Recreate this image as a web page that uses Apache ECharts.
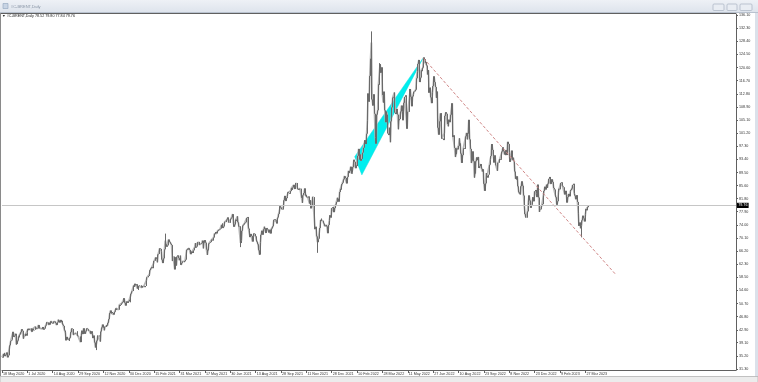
<!DOCTYPE html>
<html><head><meta charset="utf-8">
<script src="https://cdn.jsdelivr.net/npm/echarts@6/dist/echarts.min.js"></script>
<style>html,body{margin:0;padding:0;background:#fff;overflow:hidden}#c{width:758px;height:382px}</style>
</head><body><div id="c"></div>
<script>
const xTickLabels = ['18 May 2020','1 Jul 2020','14 Aug 2020','29 Sep 2020','12 Nov 2020','30 Dec 2020','15 Feb 2021','31 Mar 2021','17 May 2021','30 Jun 2021','13 Aug 2021','28 Sep 2021','11 Nov 2021','28 Dec 2021','10 Feb 2022','28 Mar 2022','11 May 2022','27 Jun 2022','10 Aug 2022','23 Sep 2022','8 Nov 2022','23 Dec 2022','9 Feb 2023','27 Mar 2023'];
const yTickLabels = [31.30,35.20,39.10,42.90,46.80,50.70,54.60,58.50,62.30,66.20,70.10,74.00,77.90,81.80,85.60,89.50,93.40,97.30,101.20,105.10,108.90,112.80,116.70,120.60,124.50,128.40,132.30,136.10];
const closes = [
34.81,34.65,35.75,36.06,35.13,35.53,36.17,34.74,35.29,35.33,38.32,39.57,39.79,39.99,42.30,40.80,41.18,41.73,38.55,38.73,39.72,40.96,40.71,41.51,42.19,43.08,42.63,40.31,41.05,41.02,41.71,41.15,
42.03,43.14,42.80,43.10,43.08,43.29,42.35,43.24,42.72,42.90,43.79,43.37,43.14,43.28,44.32,44.29,43.31,43.34,43.41,43.22,43.75,42.94,43.30,44.15,44.43,45.17,45.09,44.40,44.99,44.50,45.43,44.96,
44.80,45.37,45.46,45.37,44.90,44.35,45.13,45.86,45.64,45.09,45.81,45.28,45.58,44.43,44.07,42.66,42.01,39.78,40.79,40.06,39.83,39.61,40.53,42.22,43.30,43.15,41.44,41.72,41.77,41.94,41.92,42.43,
41.03,40.95,40.93,39.27,41.29,42.65,41.65,43.34,42.85,41.72,42.45,43.32,43.16,42.93,42.62,42.62,41.73,42.46,41.77,40.46,41.20,39.12,37.65,37.46,39.71,41.23,41.23,40.93,39.45,42.40,43.61,44.45,
43.53,42.78,43.82,43.75,44.34,44.20,44.96,46.06,47.86,48.61,47.80,48.18,47.88,47.42,48.25,48.71,49.25,48.79,48.84,48.86,50.25,49.97,50.29,50.76,51.08,51.50,52.26,50.91,50.08,51.20,51.29,50.86,
51.34,51.80,51.09,53.60,54.30,54.38,55.99,55.66,56.58,56.06,56.42,55.10,54.75,55.90,56.08,56.10,55.41,55.88,55.91,55.81,55.53,55.88,57.46,58.46,58.46,58.84,59.34,60.56,61.09,61.47,61.14,62.43,
63.30,63.35,64.34,63.93,62.91,65.24,65.37,67.04,66.88,66.13,63.69,62.70,64.07,66.74,69.36,68.24,67.52,67.90,69.63,69.22,68.88,68.39,68.00,63.28,64.53,64.62,60.79,64.41,61.95,64.57,64.98,64.14,
63.54,64.86,62.15,62.74,63.16,63.20,62.95,63.28,63.67,66.58,66.94,66.77,67.05,66.57,65.32,65.40,66.11,65.65,66.42,67.27,68.56,67.25,67.56,68.88,68.96,68.09,68.28,68.32,68.55,69.32,67.05,68.71,
69.46,68.71,66.66,65.11,66.44,68.46,68.65,68.87,69.46,69.63,69.32,70.25,71.35,71.31,71.89,71.49,72.22,72.22,72.52,72.69,72.86,73.99,74.39,73.08,73.51,74.90,74.81,75.19,75.56,76.18,74.68,74.76,
74.62,75.84,76.17,77.16,74.53,73.43,74.12,75.55,75.16,76.49,74.76,73.47,73.59,68.62,69.35,72.23,73.79,74.10,74.50,74.48,74.74,76.05,76.33,72.89,72.41,70.38,71.29,70.70,69.04,70.63,71.44,71.31,
70.59,69.51,69.03,68.23,66.45,65.18,68.75,71.05,72.25,71.07,72.70,73.41,72.99,71.59,73.03,72.61,72.22,71.69,72.60,71.45,72.92,73.51,73.60,75.46,75.67,75.34,74.92,74.36,76.19,77.25,78.09,79.53,
79.09,78.64,78.52,79.28,81.26,82.56,81.08,81.95,82.39,83.65,83.42,83.18,84.00,84.86,84.33,85.08,85.82,84.61,85.53,86.40,86.40,84.58,84.32,84.38,84.71,84.72,81.99,80.54,82.74,83.43,84.78,82.64,
82.87,82.17,82.05,82.43,80.28,81.24,78.89,79.70,82.31,82.25,82.22,72.72,73.44,70.57,68.87,69.67,69.88,73.08,75.44,75.82,75.15,75.15,74.39,73.70,73.88,74.02,73.52,71.52,73.98,75.29,76.85,76.14,
78.94,79.23,79.32,77.78,78.98,80.00,80.80,81.99,81.75,80.87,83.72,84.67,84.47,86.06,86.48,87.51,88.44,88.38,87.89,86.27,88.20,89.96,89.34,90.03,91.21,89.16,89.47,91.11,93.27,92.69,90.78,91.55,
91.41,94.44,96.48,93.28,94.81,92.97,93.54,95.39,96.84,96.84,99.08,97.93,100.99,104.97,112.93,110.46,118.11,123.21,127.98,111.14,109.33,112.67,106.90,99.91,98.02,106.64,107.93,115.62,115.48,121.60,119.03,120.65,
112.48,110.23,113.45,107.91,104.39,107.53,106.64,101.07,100.58,102.78,98.48,104.64,108.78,111.70,111.90,113.16,107.25,106.80,108.33,106.65,102.32,104.99,105.32,107.59,109.34,107.58,104.97,110.14,111.90,112.39,105.94,102.46,
107.51,107.45,111.55,114.24,111.93,109.11,112.04,112.55,113.42,113.56,114.03,117.40,119.43,121.67,122.84,116.29,117.61,119.72,119.51,120.57,123.58,123.07,122.01,122.27,121.17,118.51,119.81,113.12,114.65,111.74,110.05,113.12,
115.09,117.98,116.26,114.81,111.63,113.50,102.77,100.69,104.65,107.02,107.10,99.49,99.57,99.10,101.16,106.27,107.35,106.92,103.86,103.20,105.15,104.40,106.62,107.14,110.01,100.03,100.54,96.78,94.12,94.92,96.65,96.31,
97.40,99.60,98.15,95.10,92.34,94.65,96.59,96.72,96.48,100.22,101.22,99.34,100.99,105.09,99.31,96.49,92.36,93.02,95.74,92.83,88.00,89.15,92.84,94.00,93.17,94.10,90.84,91.35,92.00,90.62,89.83,90.46,
86.15,84.06,86.27,89.32,88.49,87.96,88.86,91.80,93.37,94.42,97.92,96.19,94.29,92.45,94.57,91.63,91.62,90.03,92.41,92.38,93.50,93.26,93.52,95.69,96.96,95.77,94.83,94.65,96.16,94.67,98.57,97.92,
95.36,92.65,93.67,95.99,93.14,93.86,92.86,89.78,87.62,87.45,88.36,85.41,83.63,83.19,83.03,85.43,86.88,85.57,82.68,79.35,77.17,76.15,76.10,77.99,80.68,82.70,81.21,79.04,79.80,79.99,82.20,80.98,
83.92,84.33,83.26,82.26,85.91,82.10,77.84,78.69,78.57,79.65,80.10,82.67,84.03,85.28,84.46,85.92,84.98,86.16,87.63,88.19,86.13,86.12,87.47,86.66,84.90,84.49,82.84,82.17,79.94,80.99,83.69,84.69,
84.50,86.39,86.61,85.58,85.38,85.14,83.00,84.07,83.05,80.60,82.21,83.16,82.45,83.89,84.31,84.75,85.83,86.18,83.29,82.66,81.59,82.78,80.77,77.45,73.69,74.70,72.97,73.79,75.32,76.69,75.91,74.99,
77.12,78.65,78.28,79.27,79.76
];
// intraday extremes for the bars where they stand out: [bar index, high, low]
const barExtremes = [[120, null, 36.9], [207, 71.4, null], [301, null, 67.4], [325, null, 65.1], [398, null, 65.7], [466, 131.3, null], [477, 121.9, null], [731, null, 70.3]];
const lastPrice = 79.76;
const headerText = '\u25BC #C-BRENT,Daily 78.52 79.80 77.84 79.76';
const windowTitle = '#C-BRENT,Daily';
const triangleIdx = [445, 454, 531];
const trianglePrice = [94.2, 88.8, 123.3];
const trendIdx = [532, 653, 775];
const trendPrice = [123.3, 91.1, 59.1];

const N = 927;
const cats = Array.from({length: N}, (_, i) => String(i));
const extMap = {};
barExtremes.forEach(e => { extMap[e[0]] = e; });
const ohlc = closes.map((c, i) => {
  const o = i ? closes[i - 1] : c;
  let hi = Math.max(o, c), lo = Math.min(o, c);
  const e = extMap[i];
  if (e) { if (e[1] != null) hi = Math.max(hi, e[1]); if (e[2] != null) lo = Math.min(lo, e[2]); }
  return [o, c, lo, hi];
});
const FONT = 'Liberation Sans';
const FS = 3.7;

const chart = echarts.init(document.getElementById('c'), null, {renderer: 'canvas'});
chart.setOption({
  animation: false,
  backgroundColor: '#ffffff',
  title: {
    text: headerText, left: 2, top: 14, padding: 0,
    textStyle: {fontSize: FS, color: '#222', fontWeight: 'normal', fontFamily: FONT}
  },
  grid: {left: 2, right: 22, top: 14, bottom: 12, containLabel: false},
  xAxis: {
    type: 'category', data: cats, boundaryGap: false,
    axisLine: {show: true, lineStyle: {color: '#606060', width: 1}},
    axisTick: {show: true, length: 3, interval: (i) => i % 32 === 0 && i / 32 < xTickLabels.length, lineStyle: {color: '#606060'}},
    axisLabel: {
      show: true, interval: (i) => i % 32 === 0 && i / 32 < xTickLabels.length,
      formatter: (v, i) => (i % 32 === 0 && i / 32 < xTickLabels.length) ? xTickLabels[i / 32] : '',
      align: 'left', margin: 1.5, fontSize: FS, color: '#333', fontFamily: FONT,
      padding: [0, 0, 0, 1], hideOverlap: false, showMinLabel: true
    },
    splitLine: {show: false}
  },
  yAxis: {
    type: 'value', position: 'right', min: 31.0, max: 136.45, scale: true,
    axisLine: {show: true, lineStyle: {color: '#606060', width: 1}},
    axisTick: {show: true, length: 2, customValues: yTickLabels, lineStyle: {color: '#606060'}},
    axisLabel: {
      show: true, customValues: yTickLabels, formatter: (v) => Number(v).toFixed(2),
      margin: 3, fontSize: FS, color: '#333', fontFamily: FONT
    },
    splitLine: {show: false}
  },
  graphic: [
    {type: 'rect', shape: {x: 0, y: 0, width: 758, height: 13}, style: {fill: new echarts.graphic.LinearGradient(0, 0, 0, 1, [{offset: 0, color: '#eef1f6'}, {offset: 1, color: '#dde3ec'}])}, z: 100},
    {type: 'line', shape: {x1: 0, y1: 12.5, x2: 758, y2: 12.5}, style: {stroke: '#b9c2cf', lineWidth: 1}, z: 101},
    {type: 'rect', shape: {x: 3, y: 3.5, width: 5, height: 5}, style: {fill: '#c8d4e4', stroke: '#8ea2bc', lineWidth: 0.6}, z: 101},
    {type: 'text', x: 11, y: 6.5, style: {text: windowTitle, fontSize: 4, fill: '#8a96a6', fontFamily: FONT, verticalAlign: 'middle'}, z: 101},
    {type: 'rect', shape: {x: 713, y: 4, width: 11, height: 6.5, r: 1}, style: {fill: '#e9edf3', stroke: '#a9b3c1', lineWidth: 0.7}, z: 101},
    {type: 'rect', shape: {x: 727, y: 4, width: 10, height: 6.5, r: 1}, style: {fill: '#e9edf3', stroke: '#a9b3c1', lineWidth: 0.7}, z: 101},
    {type: 'rect', shape: {x: 740, y: 4, width: 12, height: 6.5, r: 1}, style: {fill: '#e9edf3', stroke: '#a9b3c1', lineWidth: 0.7}, z: 101},
    {type: 'line', shape: {x1: 0, y1: 13.5, x2: 736, y2: 13.5}, style: {stroke: '#606060', lineWidth: 1}, z: 90},
    {type: 'line', shape: {x1: 0.5, y1: 13, x2: 0.5, y2: 376}, style: {stroke: '#8a8a8a', lineWidth: 1}, z: 90},
    {type: 'rect', shape: {x: 755, y: 13, width: 3, height: 369}, style: {fill: '#dbe1ea'}, z: 90},
    {type: 'rect', shape: {x: 0, y: 376.5, width: 758, height: 6}, style: {fill: '#ececec', stroke: '#b4b4b4', lineWidth: 0.8}, z: 100}
  ],
  series: [
    {
      type: 'line', data: closes, z: 2, silent: true, symbol: 'none',
      lineStyle: {color: '#b4b4b4', width: 1.8}
    },
    {
      type: 'candlestick', data: ohlc, large: false, barWidth: 1, barMaxWidth: 1,
      itemStyle: {color: '#6a6a6a', color0: '#6a6a6a', borderColor: '#6a6a6a', borderColor0: '#6a6a6a', borderWidth: 1},
      markLine: {
        silent: true, symbol: ['none', 'none'],
        data: [{yAxis: lastPrice}],
        lineStyle: {color: '#c6c6c6', type: 'solid', width: 1},
        label: {position: 'end', distance: 1, formatter: lastPrice.toFixed(2), backgroundColor: '#000', color: '#fff', fontSize: FS, fontFamily: FONT, padding: [0.6, 1.2]}
      },
      z: 3
    },
    {
      type: 'custom', z: 1, silent: true,
      data: [0],
      renderItem: (params, api) => {
        const pts = triangleIdx.map((x, k) => api.coord([x, trianglePrice[k]]));
        return {type: 'polygon', shape: {points: pts}, style: {fill: '#00eeee', stroke: '#00dddd', lineWidth: 0.5}};
      }
    },
    {
      type: 'line', z: 4, silent: true,
      data: trendIdx.map((x, k) => [x, trendPrice[k]]),
      lineStyle: {color: '#cf8585', width: 1, type: [3, 2]},
      symbol: 'circle', symbolSize: 2.5,
      itemStyle: {color: '#ffffff', borderColor: '#c06a6a', borderWidth: 0.8}
    }
  ]
});
</script></body></html>
